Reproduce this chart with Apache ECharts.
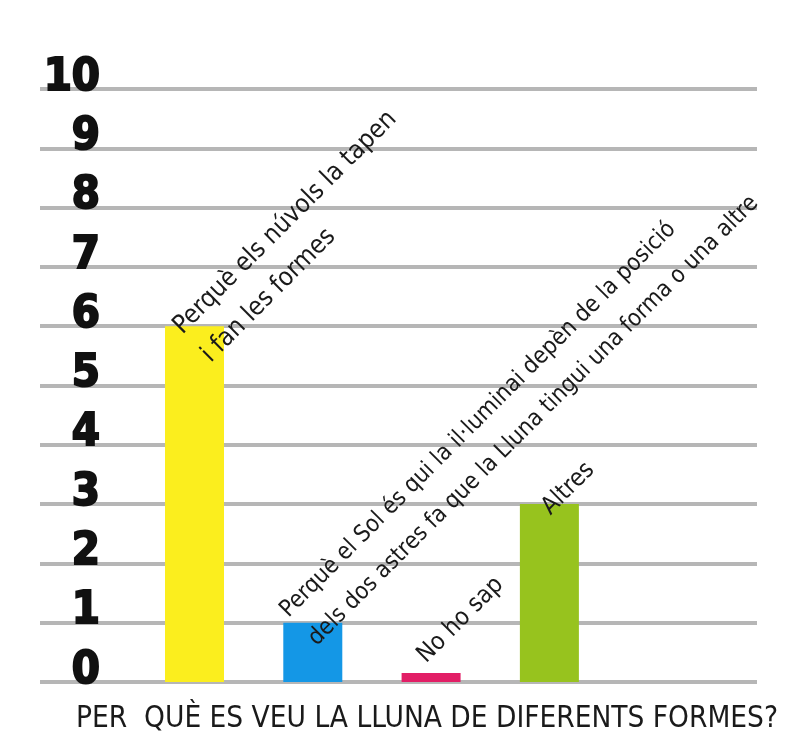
<!DOCTYPE html>
<html>
<head>
<meta charset="utf-8">
<script src="https://cdn.jsdelivr.net/npm/echarts@6/dist/echarts.min.js"></script>
<style>
  html, body { margin: 0; padding: 0; background: #ffffff; }
  #chart { width: 793px; height: 745px; }
</style>
</head>
<body>
<div id="chart"></div>
<script>
// ---- data ----
var categories = [
  "Perquè els núvols la tapen\ni fan les formes",
  "Perquè el Sol és qui la il·luminai depèn de la posició\ndels dos astres fa que la Lluna tingui una forma o una altre",
  "No ho sap",
  "Altres"
];
var values = [6, 1, 0.15, 3];
var yTicks = [0, 1, 2, 3, 4, 5, 6, 7, 8, 9, 10];
var chartTitle = "PER  QUÈ ES VEU LA LLUNA DE DIFERENTS FORMES?";

// ---- styles ----
var barColors = ["#fbee1e", "#1497e6", "#e21e66", "#97c31e"];
var labelOffsets = [[27, 18], [15, 5], [20, -14], [26, 7]];
var labelSizes = [25.6, 23.5, 24.5, 24.5];
var narrow = "'DejaVu Sans Condensed', 'Liberation Sans Narrow', sans-serif";

var seriesData = values.map(function (v, i) {
  return {
    value: [i, v],
    itemStyle: { color: barColors[i] },
    label: { position: labelOffsets[i], fontSize: labelSizes[i] }
  };
});

var chart = echarts.init(document.getElementById('chart'), null, { renderer: 'canvas' });
chart.setOption({
  backgroundColor: '#ffffff',
  animation: false,
  title: {
    text: chartTitle,
    left: 71,
    top: 699,
    textStyle: { fontFamily: narrow, fontSize: 29.5, fontWeight: 'normal', color: '#1a1a1a' }
  },
  grid: { left: 40, right: 36, top: 89, bottom: 63 },
  xAxis: {
    type: 'value',
    min: -1.306,
    max: 4.755,
    show: false,
    splitLine: { show: false }
  },
  yAxis: {
    type: 'value',
    min: yTicks[0],
    max: yTicks[yTicks.length - 1],
    interval: 1,
    axisLine: { show: false },
    axisTick: { show: false },
    splitLine: { show: true, lineStyle: { color: '#b6b6b6', width: 4 } },
    axisLabel: {
      margin: -60,
      align: 'right',
      verticalAlign: 'bottom',
      lineHeight: 22,
      fontFamily: "'DejaVu Sans Condensed', 'Liberation Sans', sans-serif",
      fontWeight: 'bold',
      fontSize: 45,
      color: '#111111',
      textBorderColor: '#111111',
      textBorderWidth: 2
    }
  },
  series: [{
    type: 'bar',
    barWidth: 59,
    data: seriesData,
    label: {
      show: true,
      rotate: 45,
      align: 'left',
      verticalAlign: 'middle',
      fontFamily: narrow,
      fontSize: 25,
      lineHeight: 40,
      color: '#1a1a1a',
      formatter: function (p) { return categories[p.dataIndex]; }
    }
  }]
});
</script>
</body>
</html>
